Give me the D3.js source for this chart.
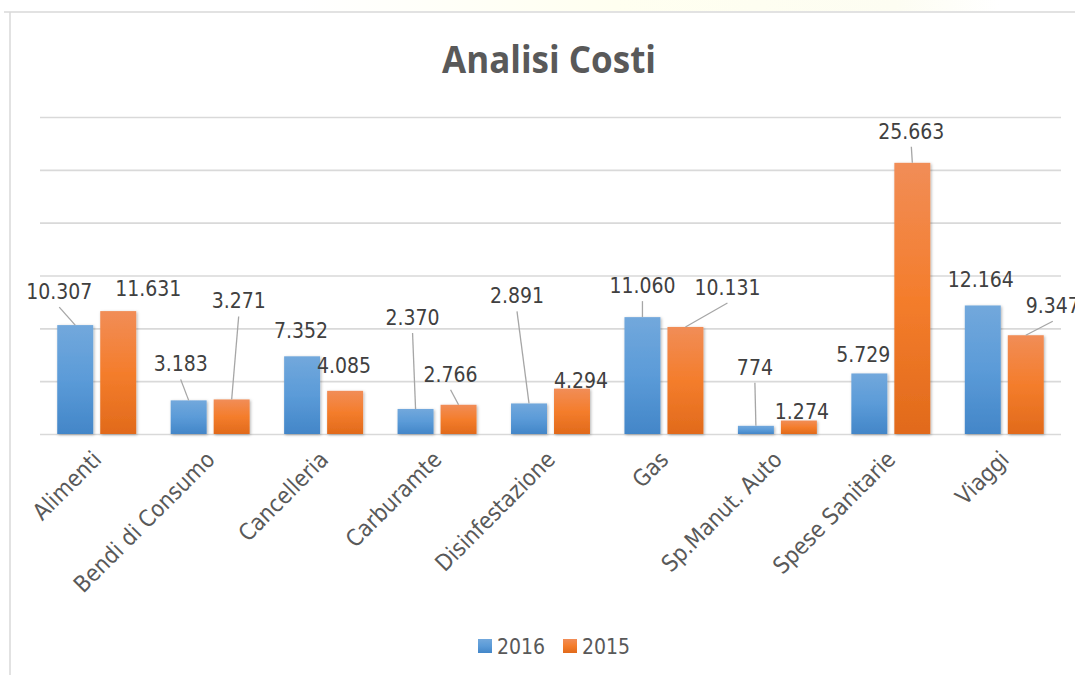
<!DOCTYPE html>
<html>
<head>
<meta charset="utf-8">
<script src="https://cdn.jsdelivr.net/npm/d3@7"></script>
<style>
  html, body { margin: 0; padding: 0; background: #ffffff; }
  svg { display: block; }
</style>
</head>
<body>
<svg id="chart" width="1075" height="675"></svg>
<script>
// Cost categories and yearly totals
const categories = ["Alimenti", "Bendi di Consumo", "Cancelleria", "Carburamte", "Disinfestazione",
                    "Gas", "Sp.Manut. Auto", "Spese Sanitarie", "Viaggi"];
const values2016 = [10307, 3183, 7352, 2370, 2891, 11060, 774, 5729, 12164];
const values2015 = [11631, 3271, 4085, 2766, 4294, 10131, 1274, 25663, 9347];
const seriesNames = ["2016", "2015"];
const yTicks = [0, 5000, 10000, 15000, 20000, 25000, 30000];

// Hand-placed data label offsets (dx, dy from the bar's top centre) and leader-line flags
const labelShift2016 = [[-16, -26, true], [-8, -29, true], [-1, -18, false], [-3, -84, true], [-12, -100, true],
                        [0, -24, true], [-1, -51, true], [-6, -11, false], [-2, -18, false]];
const labelShift2015 = [[30, -15, false], [7, -91, true], [-1, -18, false], [-8, -23, true], [9, -1, false],
                        [42, -32, true], [3, -2, false], [-1, -24, true], [27, -22, true]];

const W = 1075, H = 675;
const svg = d3.select("#chart");
const defs = svg.append("defs");

// Italian number format: thousands separated by "."
const it = d3.formatLocale({ decimal: ",", thousands: ".", grouping: [3], currency: ["€", ""] });
const fmt = it.format(",d");

// Faint warm glow above the chart frame
const glow = defs.append("linearGradient").attr("id", "glow").attr("x1", 0).attr("x2", 1).attr("y1", 0).attr("y2", 0);
glow.append("stop").attr("offset", 0).attr("stop-color", "#ffffff");
glow.append("stop").attr("offset", 0.45).attr("stop-color", "#fffff0");
glow.append("stop").attr("offset", 0.85).attr("stop-color", "#fdfdf2");
glow.append("stop").attr("offset", 1).attr("stop-color", "#ffffff");
svg.append("rect").attr("x", 300).attr("y", 0).attr("width", 700).attr("height", 11).attr("fill", "url(#glow)");

// Bar gradients
function barGradient(id, top, mid, bottom) {
  const g = defs.append("linearGradient").attr("id", id).attr("x1", 0).attr("x2", 0).attr("y1", 0).attr("y2", 1);
  g.append("stop").attr("offset", 0).attr("stop-color", top);
  g.append("stop").attr("offset", 0.5).attr("stop-color", mid);
  g.append("stop").attr("offset", 1).attr("stop-color", bottom);
}
barGradient("grad2016", "#72a8dc", "#5b9bd8", "#4386c8");
barGradient("grad2015", "#f18d57", "#f47d2c", "#e16a1b");

const shadow = defs.append("filter").attr("id", "shadow")
  .attr("x", "-20%").attr("y", "-5%").attr("width", "140%").attr("height", "115%");
shadow.append("feDropShadow").attr("dx", 1).attr("dy", 1).attr("stdDeviation", 1.5)
  .attr("flood-color", "#000").attr("flood-opacity", 0.3);

// Chart frame (left and top edges)
svg.append("line").attr("x1", 4).attr("x2", W).attr("y1", 12).attr("y2", 12)
  .attr("stroke", "#d9d9d9").attr("stroke-width", 1.5);
svg.append("line").attr("x1", 10).attr("x2", 10).attr("y1", 12).attr("y2", H)
  .attr("stroke", "#d9d9d9").attr("stroke-width", 1.5);

// Title
svg.append("text")
  .attr("x", 549).attr("y", 73)
  .attr("text-anchor", "middle")
  .attr("font-family", "'Open Sans', sans-serif")
  .attr("font-weight", "bold")
  .attr("font-size", 38)
  .attr("fill", "#595959")
  .attr("textLength", 214)
  .attr("lengthAdjust", "spacingAndGlyphs")
  .text("Analisi Costi");

// Scales
const x0 = d3.scaleBand().domain(categories).range([40, 1061]).paddingInner(0).paddingOuter(0);
const bw = x0.bandwidth();
const barW = bw * 0.317;
const innerGap = bw * 0.062;
const outerPad = (bw - 2 * barW - innerGap) / 2;
const x1 = d3.scaleOrdinal().domain(seriesNames).range([outerPad, outerPad + barW + innerGap]);
const y = d3.scaleLinear().domain([0, 30000]).range([434, 117]);

// Horizontal gridlines
const yAxis = d3.axisLeft(y).tickValues(yTicks).tickSize(-(1061 - 40)).tickFormat("");
const gy = svg.append("g").attr("transform", "translate(40,0)").call(yAxis);
gy.select(".domain").remove();
gy.selectAll(".tick line").attr("stroke", "#d9d9d9").attr("stroke-width", 1.6);

// Category axis labels (rotated)
const fontLabel = "'DejaVu Sans Condensed', 'DejaVu Sans', sans-serif";
svg.append("g").selectAll("text")
  .data(categories)
  .join("text")
  .attr("transform", d => `translate(${x0(d) + bw / 2 + 6},${461}) rotate(-45)`)
  .attr("text-anchor", "end")
  .attr("font-family", fontLabel)
  .attr("font-size", 23)
  .attr("fill", "#595959")
  .text(d => d);

// Bars
const series = [
  { name: "2016", values: values2016, fill: "url(#grad2016)", shift: labelShift2016 },
  { name: "2015", values: values2015, fill: "url(#grad2015)", shift: labelShift2015 }
];

const barsG = svg.append("g").attr("filter", "url(#shadow)");
series.forEach(s => {
  barsG.append("g").selectAll("rect")
    .data(s.values.map((v, i) => ({ cat: categories[i], v })))
    .join("rect")
    .attr("x", d => x0(d.cat) + x1(s.name))
    .attr("y", d => y(d.v))
    .attr("width", barW)
    .attr("height", d => y(0) - y(d.v))
    .attr("fill", s.fill);
});

// Data labels with leader lines
const labelsG = svg.append("g");
series.forEach(s => {
  s.values.forEach((v, i) => {
    const cx = x0(categories[i]) + x1(s.name) + barW / 2;
    const top = y(v);
    const [dx, dy, leader] = s.shift[i];
    const lx = cx + dx, ly = top + dy;
    if (leader) {
      labelsG.append("line")
        .attr("x1", lx).attr("y1", ly + 8)
        .attr("x2", cx).attr("y2", top)
        .attr("stroke", "#a6a6a6").attr("stroke-width", 1.3);
    }
    labelsG.append("text")
      .attr("x", lx).attr("y", ly)
      .attr("text-anchor", "middle")
      .attr("font-family", fontLabel)
      .attr("font-size", 21)
      .attr("fill", "#404040")
      .text(fmt(v));
  });
});

// Legend
const legend = svg.append("g");
const legendItems = [
  { name: "2016", fill: "url(#grad2016)", x: 478 },
  { name: "2015", fill: "url(#grad2015)", x: 563 }
];
legendItems.forEach(it2 => {
  legend.append("rect").attr("x", it2.x).attr("y", 639).attr("width", 14).attr("height", 14).attr("fill", it2.fill);
  legend.append("text")
    .attr("x", it2.x + 19).attr("y", 654)
    .attr("font-family", fontLabel)
    .attr("font-size", 21)
    .attr("fill", "#595959")
    .text(it2.name);
});
</script>
</body>
</html>
